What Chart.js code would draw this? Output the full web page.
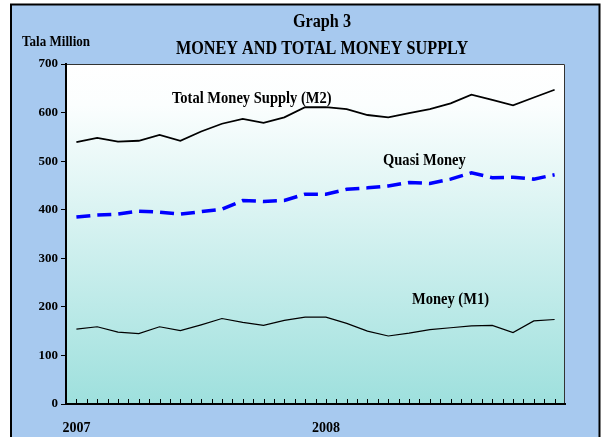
<!DOCTYPE html>
<html lang="en">
<head>
    <meta charset="UTF-8">
    <title>Graph 3 - Money and Total Money Supply</title>
    <style>
        html, body {
            margin: 0;
            padding: 0;
            background: #ffffff;
            overflow: hidden;
        }
        #chartBox {
            width: 601px;
            height: 437px;
        }
    </style>
    <script src="https://cdn.jsdelivr.net/npm/chart.js"></script>
</head>
<body>
    <div id="chartBox"><canvas id="moneyChart" width="601" height="437"></canvas></div>
    <script>
        // monthly, Jan 2007 - Dec 2008 (Tala million)
        const months = ['Jan 2007', 'Feb 2007', 'Mar 2007', 'Apr 2007', 'May 2007', 'Jun 2007',
            'Jul 2007', 'Aug 2007', 'Sep 2007', 'Oct 2007', 'Nov 2007', 'Dec 2007',
            'Jan 2008', 'Feb 2008', 'Mar 2008', 'Apr 2008', 'May 2008', 'Jun 2008',
            'Jul 2008', 'Aug 2008', 'Sep 2008', 'Oct 2008', 'Nov 2008', 'Dec 2008'];
        const totalMoneySupply = [539, 548, 540, 542, 554, 542, 561, 577, 587, 579, 590, 611,
            611, 607, 595, 590, 599, 607, 619, 637, 626, 615, 631, 647];
        const quasiMoney = [385, 389, 391, 397, 395, 391, 396, 401, 419, 417, 419, 432,
            432, 442, 445, 449, 456, 454, 463, 476, 466, 467, 463, 472];
        const narrowMoney = [154, 159, 148, 145, 159, 151, 163, 176, 168, 162, 172, 179,
            179, 166, 150, 140, 146, 153, 157, 161, 162, 147, 171, 174];
        const yTicks = [0, 100, 200, 300, 400, 500, 600, 700];

        const serif = '"Liberation Serif", "Times New Roman", serif';

        // condensed bold serif text, like the original
        function drawLabel(ctx, txt, x, y, size, sx, align) {
            ctx.save();
            ctx.font = 'bold ' + size + 'px ' + serif;
            ctx.fillStyle = '#000';
            ctx.textBaseline = 'alphabetic';
            ctx.textAlign = align;
            ctx.translate(x, y);
            ctx.scale(sx, 1);
            ctx.fillText(txt, 0, 0);
            ctx.restore();
        }

        const framePlugin = {
            id: 'frame',
            beforeDraw(chart) {
                const ctx = chart.ctx;
                const a = chart.chartArea;
                ctx.save();
                ctx.fillStyle = '#ffffff';
                ctx.fillRect(0, 0, chart.width, chart.height);
                ctx.fillStyle = '#a7c9ef';
                ctx.fillRect(11, 4, 589, chart.height);
                ctx.strokeStyle = '#000';
                ctx.lineWidth = 2;
                ctx.strokeRect(11, 4.5, 588.5, chart.height + 10);

                const grad = ctx.createLinearGradient(0, a.top, 0, a.bottom);
                grad.addColorStop(0, '#ffffff');
                grad.addColorStop(0.12, '#fbfefe');
                grad.addColorStop(1, '#9ee0dd');
                ctx.fillStyle = grad;
                ctx.fillRect(a.left, a.top, a.right - a.left, a.bottom - a.top);

                ctx.strokeStyle = '#333';
                ctx.lineWidth = 1;
                ctx.beginPath();
                ctx.moveTo(a.left, a.top + 0.5);
                ctx.lineTo(a.right - 0.5, a.top + 0.5);
                ctx.lineTo(a.right - 0.5, a.bottom);
                ctx.stroke();
                ctx.restore();
            },
            afterDraw(chart) {
                const ctx = chart.ctx;
                const x = chart.scales.x;
                const bottom = chart.chartArea.bottom;
                // small inward ticks at each month and half month
                ctx.save();
                ctx.strokeStyle = '#000';
                ctx.lineWidth = 1;
                ctx.beginPath();
                for (let i = 0; i <= months.length - 1; i += 0.5) {
                    const px = Math.round(x.getPixelForValue(i)) + 0.5;
                    ctx.moveTo(px, bottom);
                    ctx.lineTo(px, bottom - 5);
                }
                ctx.stroke();
                ctx.restore();

                drawLabel(ctx, 'Graph 3', 322, 27, 18, 0.9, 'center');
                drawLabel(ctx, 'MONEY AND TOTAL MONEY SUPPLY', 322, 54, 18, 0.9, 'center');
                drawLabel(ctx, 'Tala Million', 22, 46, 15, 0.87, 'left');
                drawLabel(ctx, 'Total Money Supply (M2)', 172, 103, 16.5, 0.88, 'left');
                drawLabel(ctx, 'Quasi Money', 383, 165, 16.5, 0.88, 'left');
                drawLabel(ctx, 'Money (M1)', 412, 304, 16.5, 0.88, 'left');
            }
        };

        new Chart(document.getElementById('moneyChart'), {
            type: 'line',
            data: {
                labels: months,
                datasets: [{
                    label: 'Total Money Supply (M2)',
                    data: totalMoneySupply,
                    borderColor: '#000000',
                    borderWidth: 1.8,
                    pointRadius: 0,
                    tension: 0,
                    fill: false
                }, {
                    label: 'Quasi Money',
                    data: quasiMoney,
                    borderColor: '#0000ff',
                    borderWidth: 3.5,
                    borderDash: [14, 7],
                    pointRadius: 0,
                    tension: 0,
                    fill: false
                }, {
                    label: 'Money (M1)',
                    data: narrowMoney,
                    borderColor: '#000000',
                    borderWidth: 1.2,
                    pointRadius: 0,
                    tension: 0,
                    fill: false
                }]
            },
            options: {
                responsive: false,
                animation: false,
                layout: { padding: { top: 64, right: 36, bottom: 0, left: 0 } },
                plugins: {
                    legend: { display: false },
                    tooltip: { enabled: false },
                    title: { display: false }
                },
                scales: {
                    x: {
                        type: 'category',
                        offset: true,
                        afterFit(scale) { scale.height = 33; },
                        grid: { display: false },
                        border: { display: true, color: '#000', width: 2 },
                        ticks: {
                            autoSkip: false,
                            maxRotation: 0,
                            padding: 8,
                            color: '#000',
                            font: { family: serif, size: 14, weight: 'bold' },
                            callback(value, index) {
                                const m = months[index];
                                return m.startsWith('Jan') ? m.slice(4) : '';
                            }
                        }
                    },
                    y: {
                        min: 0,
                        max: 700,
                        afterFit(scale) { scale.width = 66; },
                        afterBuildTicks(scale) { scale.ticks = yTicks.map(v => ({ value: v })); },
                        grid: { drawOnChartArea: false, color: '#000', tickLength: 5 },
                        border: { display: true, color: '#000', width: 2 },
                        ticks: {
                            padding: 3,
                            color: '#000',
                            font: { family: serif, size: 13, weight: 'bold' }
                        }
                    }
                }
            },
            plugins: [framePlugin]
        });
    </script>
</body>
</html>
